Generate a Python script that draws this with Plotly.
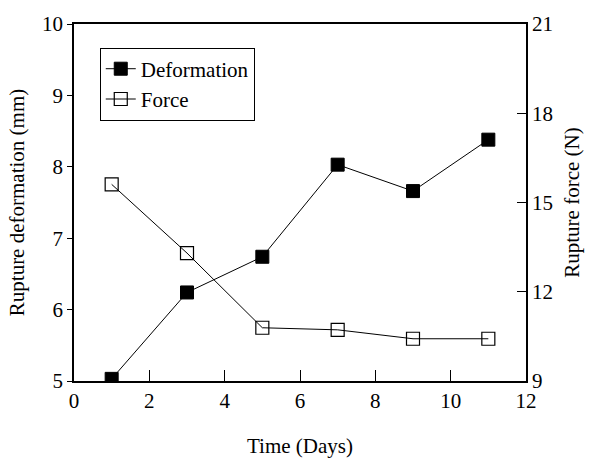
import plotly.graph_objects as go

days = [1, 3, 5, 7, 9, 11]
deformation = [5.03, 6.24, 6.74, 8.03, 7.66, 8.38]
force = [15.61, 13.30, 10.79, 10.72, 10.42, 10.42]

x_ticks = [0, 2, 4, 6, 8, 10, 12]
left_ticks = [5, 6, 7, 8, 9, 10]
right_ticks = [9, 12, 15, 18, 21]

serif = "Liberation Serif"

fig = go.Figure()
fig.add_trace(go.Scatter(
    x=days, y=deformation, name="Deformation", mode="lines+markers",
    line=dict(color="black", width=1),
    marker=dict(symbol="square", size=13, color="black", line=dict(color="black", width=1)),
    yaxis="y"))
fig.add_trace(go.Scatter(
    x=days, y=force, name="Force", mode="lines+markers",
    line=dict(color="black", width=1),
    marker=dict(symbol="square-open", size=13, color="black", line=dict(color="black", width=1.2)),
    yaxis="y2"))

fig.update_layout(
    width=592, height=467,
    margin=dict(l=74, r=64, t=18, b=86),
    paper_bgcolor="white", plot_bgcolor="white",
    font=dict(family=serif, color="black", size=20),
    showlegend=True,
    legend=dict(x=0.057, y=0.934, xanchor="left", yanchor="top",
                bgcolor="white", bordercolor="black", borderwidth=1,
                font=dict(family=serif, size=21), itemwidth=30,
                tracegroupgap=4),
    xaxis=dict(range=[0, 12], tickvals=x_ticks, ticks="inside", ticklen=11,
               tickcolor="black", showline=True, linecolor="black", linewidth=1.5,
               mirror=True, showgrid=False, zeroline=False,
               tickfont=dict(family=serif, size=21),
               title=dict(text="Time (Days)", font=dict(family=serif, size=21), standoff=26)),
    yaxis=dict(range=[5, 10], tickvals=left_ticks, ticks="outside", ticklen=5,
               tickcolor="black", showline=True, linecolor="black", linewidth=1.5,
               showgrid=False, zeroline=False,
               tickfont=dict(family=serif, size=21),
               title=dict(text="Rupture deformation (mm)", font=dict(family=serif, size=21), standoff=12)),
    yaxis2=dict(range=[9, 21], tickvals=right_ticks, ticks="inside", ticklen=9,
                tickcolor="black", overlaying="y", side="right",
                showline=True, linecolor="black", linewidth=1.5,
                showgrid=False, zeroline=False,
                tickfont=dict(family=serif, size=21),
                title=dict(text="Rupture force (N)", font=dict(family=serif, size=21), standoff=12)),
)

fig.write_html("out.html")
